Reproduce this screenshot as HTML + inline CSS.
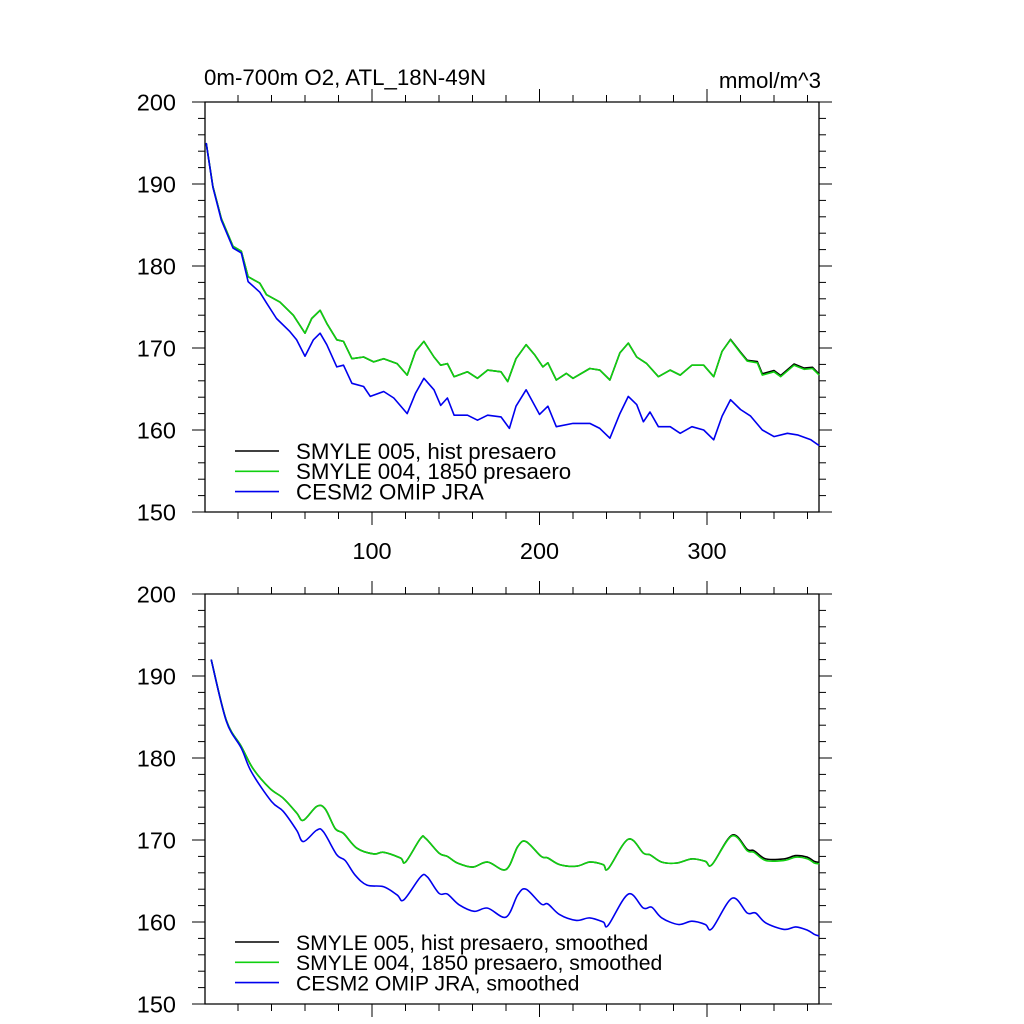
<!DOCTYPE html>
<html><head><meta charset="utf-8"><style>
html,body{margin:0;padding:0;background:#fff;}
svg{display:block;font-family:"Liberation Sans",sans-serif;}
</style></head><body>
<svg id="chart" width="1024" height="1024" viewBox="0 0 1024 1024" xmlns="http://www.w3.org/2000/svg">
<text x="204" y="85" font-size="22.3">0m-700m O2, ATL_18N-49N</text>
<text x="821" y="88" font-size="22.3" text-anchor="end">mmol/m^3</text>
</svg>
<script>
// ---- data ----
const yTicks = [150,160,170,180,190,200];
const xTicks = [100,200,300];
const topGreenX = [1,5,10,17,22,26,33,37,45,53,60,64,69,73,79,83,88,95,101,107,115,121,126,131,137,141,145,149,157,163,169,177,181,186,192,197,202,205,210,216,220,230,236,242,248,253,258,264,271,278,284,291,298,304,309,314,320,324,330,333,340,344,352,358,363,367];
const topGreenY = [195,189.7,185.8,182.4,181.8,178.7,177.9,176.5,175.6,174,171.8,173.6,174.6,173,171,170.8,168.7,168.9,168.3,168.7,168.1,166.7,169.6,170.8,168.9,167.9,168.1,166.5,167.1,166.3,167.3,167.1,165.9,168.7,170.4,169.2,167.7,168.2,166.1,166.9,166.3,167.5,167.3,166.1,169.4,170.6,168.9,168.1,166.5,167.3,166.7,167.9,167.9,166.5,169.6,171,169.4,168.4,168.2,166.7,167.1,166.5,167.9,167.4,167.5,166.7];
const topBlackY = [195,189.7,185.8,182.4,181.8,178.7,177.9,176.5,175.6,174,171.8,173.6,174.6,173,171,170.8,168.7,168.9,168.3,168.7,168.1,166.7,169.6,170.8,168.9,167.9,168.1,166.5,167.1,166.3,167.3,167.1,165.9,168.7,170.4,169.2,167.7,168.2,166.1,166.9,166.3,167.5,167.3,166.1,169.4,170.6,168.9,168.1,166.5,167.3,166.7,167.9,167.9,166.5,169.6,171.05,169.5,168.5,168.35,166.85,167.25,166.65,168.05,167.55,167.65,166.8];
const topBlueX = [1,5,10,17,22,26,33,37,43,51,55,60,65,69,73,79,83,88,95,99,107,113,121,126,131,137,141,145,149,157,163,169,177,182,186,192,200,205,210,220,230,236,242,248,253,258,262,266,271,278,284,291,298,304,309,314,320,326,333,340,348,354,362,367];
const topBlueY = [195,189.6,185.6,182.2,181.6,178.1,176.8,175.5,173.6,172,171,169,171,171.8,170.4,167.7,167.9,165.7,165.3,164.1,164.7,163.9,162,164.5,166.3,164.9,163,163.9,161.8,161.8,161.2,161.8,161.6,160.2,162.9,164.9,161.9,162.9,160.4,160.8,160.8,160.2,159,162,164.1,163.1,161,162.2,160.4,160.4,159.6,160.4,160,158.8,161.7,163.7,162.5,161.7,160,159.2,159.6,159.4,158.8,158.1];
const botGreenX = [4,13,22,29,39,47,55,59,67,72,78,83,91,101,107,117,120,129,132,140,145,151,160,169,180,187,192,201,205,212,222,230,238,241,253,262,266,273,282,291,299,303,315,324,328,335,346,353,360,364,367];
const botGreenY = [192,184.6,181.4,178.7,176.3,175.1,173.3,172.4,174.1,173.8,171.4,170.8,169,168.3,168.5,167.8,167.3,170.2,170.2,168.4,168,167.2,166.7,167.3,166.4,169.2,169.8,168,167.8,167,166.8,167.3,167,166.5,170.1,168.4,168.2,167.3,167.2,167.7,167.4,167,170.5,168.7,168.5,167.5,167.5,167.9,167.7,167.2,167.1];
const botBlackY = [192,184.6,181.4,178.7,176.3,175.1,173.3,172.4,174.1,173.8,171.4,170.8,169,168.3,168.5,167.8,167.3,170.2,170.2,168.4,168,167.2,166.7,167.3,166.4,169.2,169.8,168,167.8,167,166.8,167.3,167,166.5,170.1,168.4,168.2,167.3,167.2,167.7,167.4,167,170.6,168.85,168.7,167.7,167.7,168.1,167.9,167.4,167.25];
const botBlueX = [4,13,22,28,40,47,55,59,67,71,79,84,90,97,107,115,119,129,133,140,145,152,161,169,180,187,192,201,205,212,222,230,238,241,253,262,267,273,283,291,299,303,315,324,329,335,346,353,360,364,367];
const botBlueY = [192,184.5,181.2,178.3,174.7,173.5,171.2,169.8,171.2,171,168.2,167.5,165.7,164.5,164.3,163.3,162.7,165.5,165.5,163.5,163.4,162.1,161.3,161.7,160.6,163.3,164,162.2,162.2,160.9,160.2,160.5,160,159.6,163.4,161.7,161.8,160.5,159.7,160.1,159.7,159.2,162.9,161.1,161.1,159.9,159.1,159.4,159,158.5,158.3];

const NS='http://www.w3.org/2000/svg';
const svg=document.getElementById('chart');
function mk(tag,attrs,parent){const e=document.createElementNS(NS,tag);for(const k in attrs)e.setAttribute(k,attrs[k]);(parent||svg).appendChild(e);return e;}
const X0=205,X1=819;
function sx(v){return 204.5+v*1.675;}
function makeY(top){return v=>top+(200-v)*8.2;}
function linePath(P){return P.map((p,i)=>(i?'L':'M')+p[0].toFixed(1)+' '+p[1].toFixed(1)).join('');}
function smoothPath(P){
  let d='M'+P[0][0].toFixed(1)+' '+P[0][1].toFixed(1);
  for(let i=0;i<P.length-1;i++){
    const p0=P[i-1]||P[i],p1=P[i],p2=P[i+1],p3=P[i+2]||p2;
    const c1=[p1[0]+(p2[0]-p0[0])/6,p1[1]+(p2[1]-p0[1])/6];
    const c2=[p2[0]-(p3[0]-p1[0])/6,p2[1]-(p3[1]-p1[1])/6];
    d+=`C${c1[0].toFixed(1)} ${c1[1].toFixed(1)} ${c2[0].toFixed(1)} ${c2[1].toFixed(1)} ${p2[0].toFixed(1)} ${p2[1].toFixed(1)}`;
  }
  return d;
}

function panel(top,name,series,legend,legX,legTX,legY,showXLabels,smooth,legFont){
  const g=mk('g',{});
  
  
  const sy=makeY(top), bot=sy(150);
  const ax=mk('path',{d:`M${X0} ${top}H${X1}V${bot}H${X0}Z`,fill:'none',stroke:'#000','stroke-width':1.3},g);
  
  
  for(let v=150;v<=200;v+=2){
    const major=v%10===0, L=major?13:7, y=sy(v);
    mk('line',{x1:X0-L,x2:X0,y1:y,y2:y,stroke:'#000','stroke-width':1},g);
    mk('line',{x1:X1,x2:X1+L,y1:y,y2:y,stroke:'#000','stroke-width':1},g);
  }
  yTicks.forEach(v=>{
    const t=mk('text',{x:176,y:sy(v)+8.5,'font-size':23.5,'text-anchor':'end'},g);
    
    
    t.textContent=v;
  });
  for(let v=20;v<=360;v+=20){
    const major=v%100===0, L=major?13:7, x=sx(v);
    mk('line',{x1:x,x2:x,y1:top-L,y2:top,stroke:'#000','stroke-width':1},g);
    mk('line',{x1:x,x2:x,y1:bot,y2:bot+L,stroke:'#000','stroke-width':1},g);
  }
  if(showXLabels) xTicks.forEach(v=>{
    const t=mk('text',{x:sx(v),y:bot+47,'font-size':23.5,'text-anchor':'middle'},g);
    
    
    t.textContent=v;
  });
  series.forEach(s=>{
    const P=s.x.map((xv,i)=>[sx(xv),sy(s.y[i])]);
    const p=mk('path',{d:smooth?smoothPath(P):linePath(P),fill:'none',stroke:s.c,'stroke-width':1.6,'stroke-linejoin':'round'},g);
    
    
  });
  legend.forEach((l,i)=>{
    const y=legY+i*20.3;
    const ln=mk('line',{x1:legX,x2:legX+44,y1:y,y2:y,stroke:l.c,'stroke-width':1.6},g);
    
    
    const t=mk('text',{x:legTX,y:y+7.8,'font-size':legFont},g);
    
    
    t.textContent=l.t;
  });
}
panel(102,'top-panel',[
  {x:topGreenX,y:topBlackY,c:'#000',n:'series-smyle005'},
  {x:topGreenX,y:topGreenY,c:'#10d010',n:'series-smyle004'},
  {x:topBlueX,y:topBlueY,c:'#0000ee',n:'series-omip-jra'}],
  [{c:'#000',t:'SMYLE 005, hist presaero'},{c:'#10d010',t:'SMYLE 004, 1850 presaero'},{c:'#0000ee',t:'CESM2 OMIP JRA'}],
  235,296,451,true,false,22.3);
panel(594,'bottom-panel',[
  {x:botGreenX,y:botBlackY,c:'#000',n:'series-smyle005-smoothed'},
  {x:botGreenX,y:botGreenY,c:'#10d010',n:'series-smyle004-smoothed'},
  {x:botBlueX,y:botBlueY,c:'#0000ee',n:'series-omip-jra-smoothed'}],
  [{c:'#000',t:'SMYLE 005, hist presaero, smoothed'},{c:'#10d010',t:'SMYLE 004, 1850 presaero, smoothed'},{c:'#0000ee',t:'CESM2 OMIP JRA, smoothed'}],
  235,296,942,false,true,21.2);
</script>
</body></html>
